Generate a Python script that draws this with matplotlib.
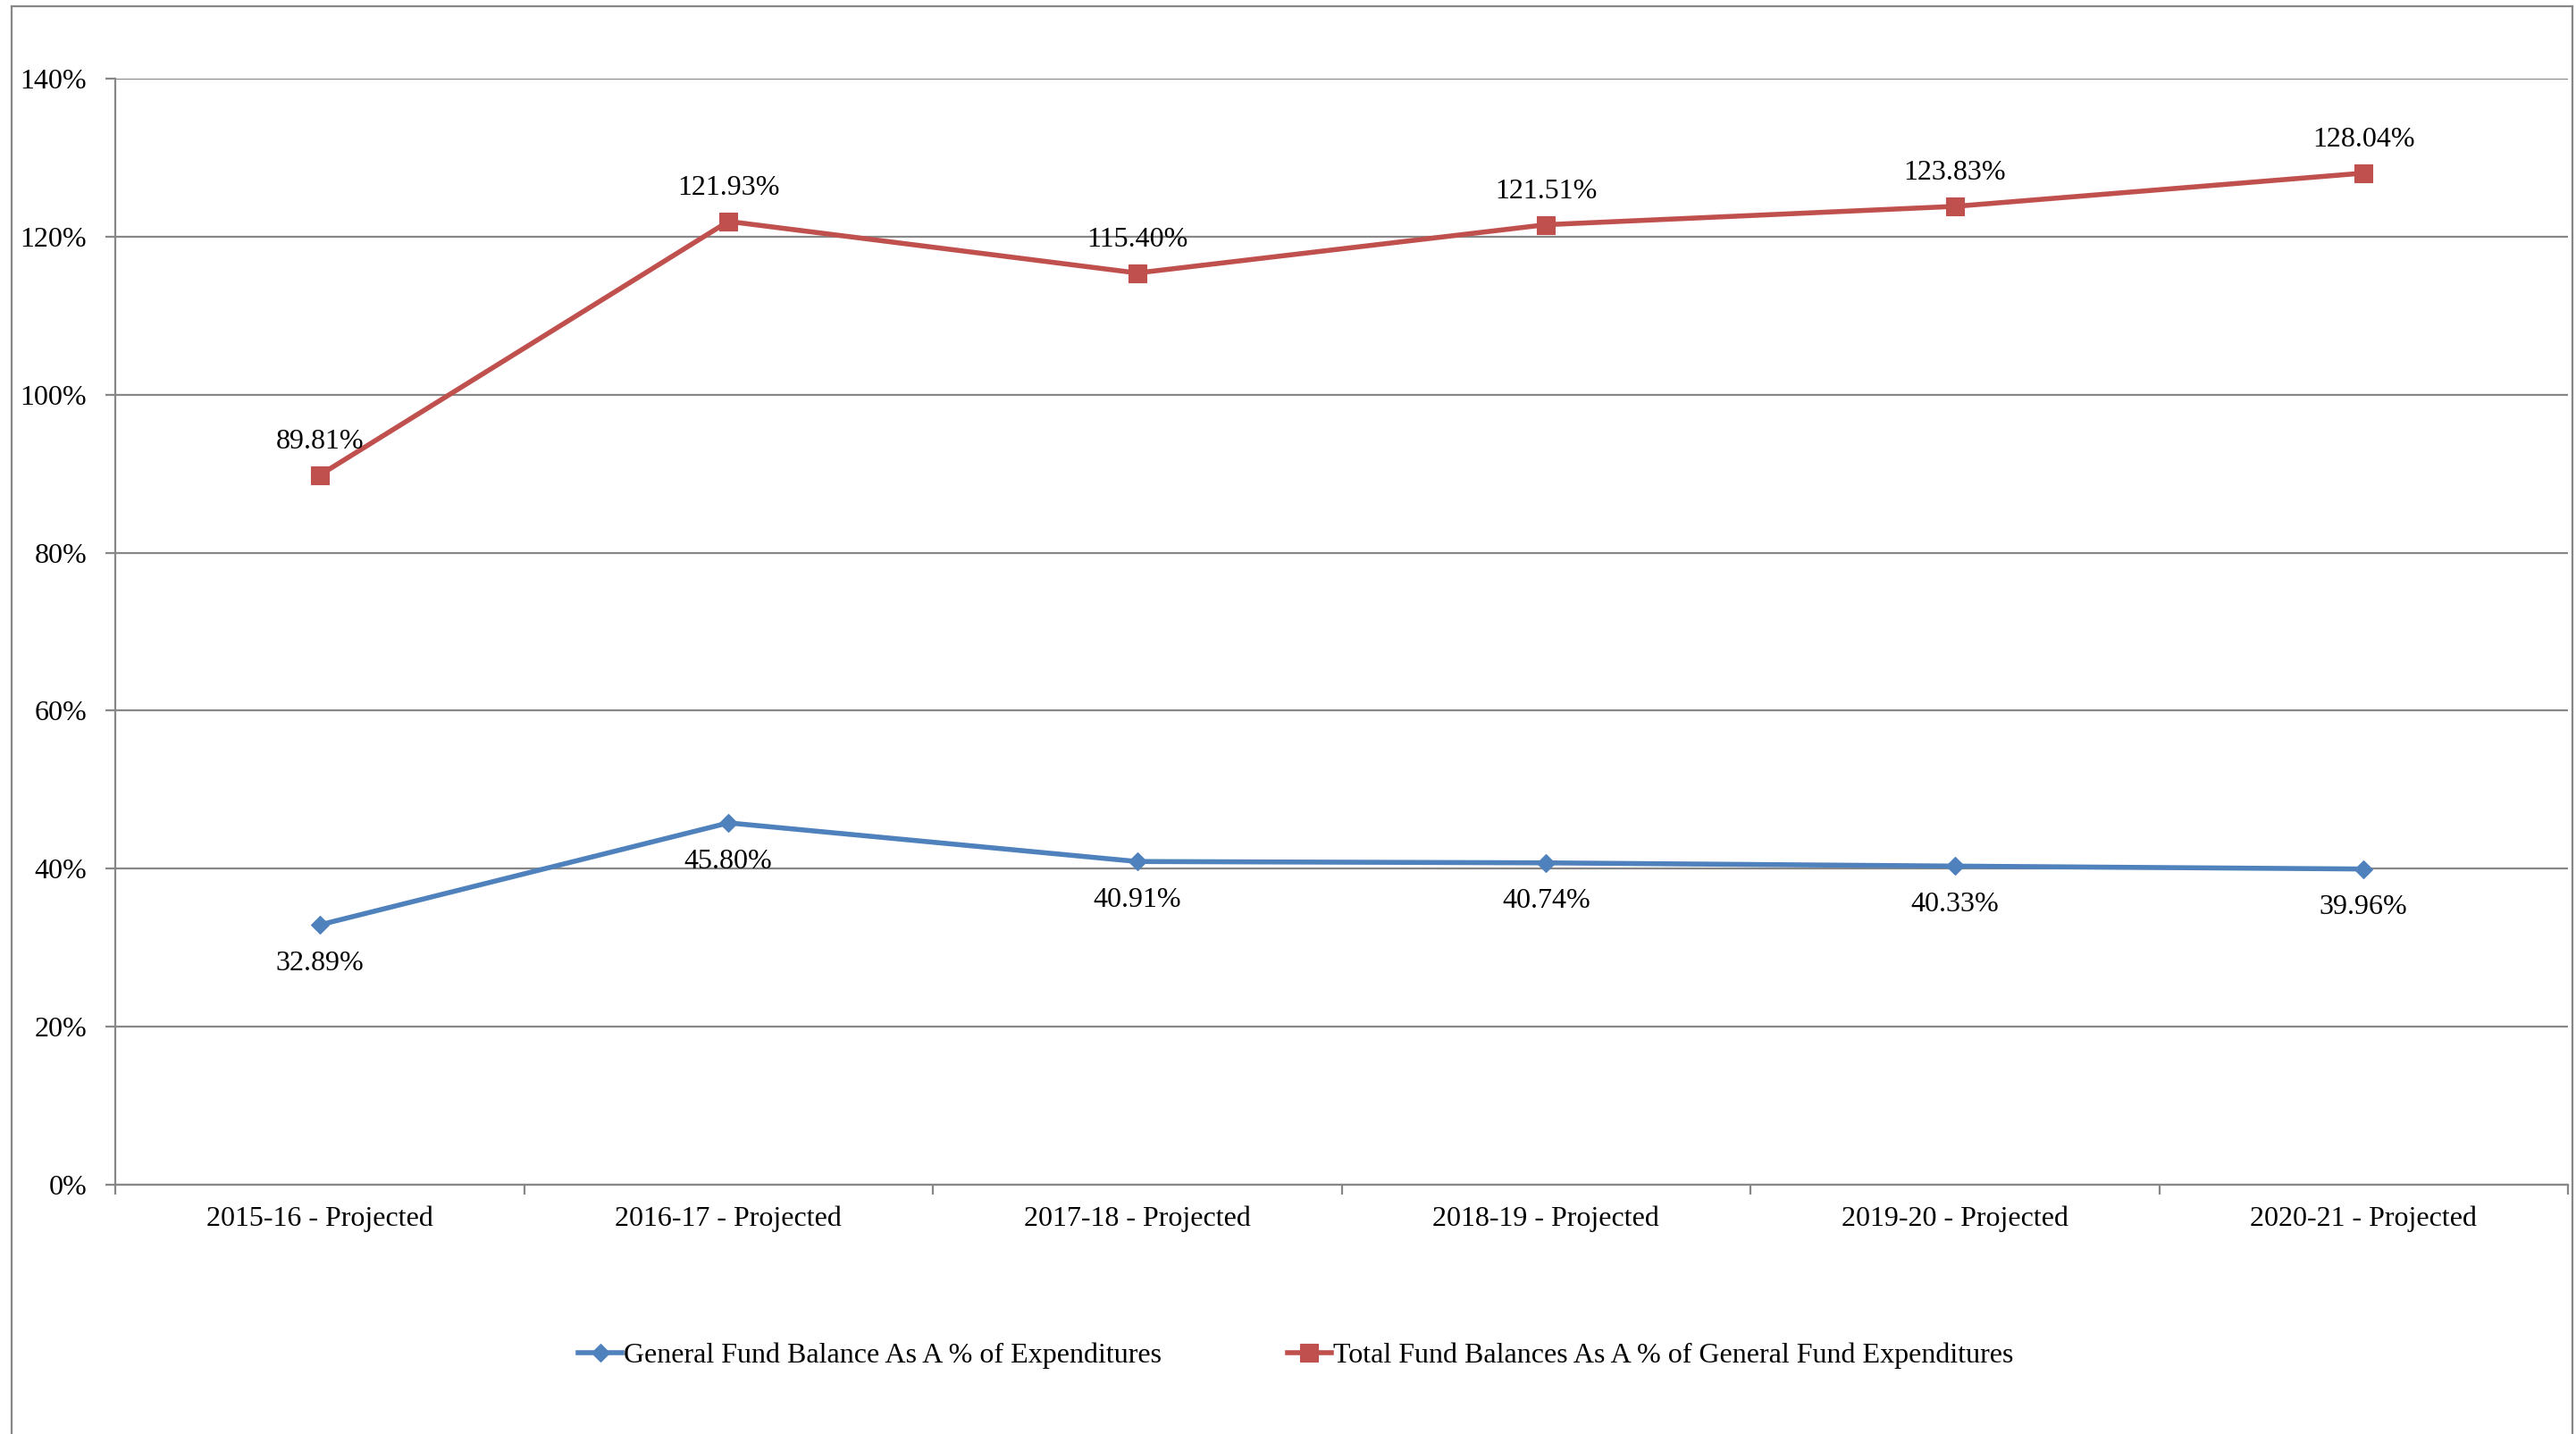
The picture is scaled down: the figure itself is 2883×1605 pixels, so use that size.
import matplotlib.pyplot as plt
from matplotlib.lines import Line2D
from matplotlib.ticker import FixedLocator, FuncFormatter

# fiscal years and the two fund balance ratios (percent)
years = ['2015-16 - Projected', '2016-17 - Projected', '2017-18 - Projected',
         '2018-19 - Projected', '2019-20 - Projected', '2020-21 - Projected']
general_fund = [32.89, 45.80, 40.91, 40.74, 40.33, 39.96]
total_funds = [89.81, 121.93, 115.40, 121.51, 123.83, 128.04]

blue = '#4F81BD'
red = '#C0504D'
grey = '#878787'

plt.rcParams['font.family'] = ['Liberation Serif', 'DejaVu Serif']
plt.rcParams['font.size'] = 23

W, H = 2883, 1605
fig = plt.figure(figsize=(W / 100, H / 100), dpi=100)
ax = fig.add_axes([129 / W, 1 - 1326 / H, (2874 - 129) / W, (1326 - 88) / H])

x = list(range(len(years)))
ax.plot(x, general_fund, color=blue, lw=4, marker='D', ms=10.5, mew=0.8,
        mfc=blue, mec=blue, label='General Fund Balance As A % of Expenditures', zorder=3)
ax.plot(x, total_funds, color=red, lw=4, marker='s', ms=14, mew=0.8,
        mfc=red, mec=red, label='Total Fund Balances As A % of General Fund Expenditures', zorder=3)

# value labels: below the blue series, above the red one
for xi, v in zip(x, general_fund):
    ax.annotate(f'{v:.2f}%', (xi, v), xytext=(0, -31), textcoords='offset points',
                ha='center', va='center', color='black')
for xi, v in zip(x, total_funds):
    ax.annotate(f'{v:.2f}%', (xi, v), xytext=(0, 27), textcoords='offset points',
                ha='center', va='center', color='black')

ax.set_xlim(-0.5, len(years) - 0.5)
ax.set_ylim(0, 140)
ax.set_yticks(range(0, 141, 20))
ax.yaxis.set_major_formatter(FuncFormatter(lambda v, p: f'{v:.0f}%'))
ax.yaxis.grid(True, color=grey, lw=1.6)
ax.set_axisbelow(True)

ax.set_xticks(x)
ax.set_xticklabels(years)
ax.xaxis.set_minor_locator(FixedLocator([i - 0.5 for i in range(len(years) + 1)]))
ax.tick_params(axis='x', which='major', length=0, pad=17)
ax.tick_params(axis='x', which='minor', length=8, width=1.6, color=grey)
ax.tick_params(axis='y', length=8, width=1.6, color=grey, pad=15)

for s in ['top', 'right']:
    ax.spines[s].set_visible(False)
for s in ['left', 'bottom']:
    ax.spines[s].set_color(grey)
    ax.spines[s].set_linewidth(1.6)

fig.legend(loc='center', bbox_to_anchor=(1450 / W, 1 - 1517 / H), ncol=2,
           frameon=False, handlelength=1.55, handletextpad=0.05, columnspacing=4.4)

# chart area border (runs off the bottom edge)
bx0, bx1, by0 = 13 / W, 2879 / W, 1 - 7 / H
for xs, ys in [([bx0, bx0], [0, by0]), ([bx0, bx1], [by0, by0]), ([bx1, bx1], [by0, 0])]:
    fig.add_artist(Line2D(xs, ys, color=grey, lw=1.6, transform=fig.transFigure))

fig.savefig('out.png', dpi=100, facecolor='white')
